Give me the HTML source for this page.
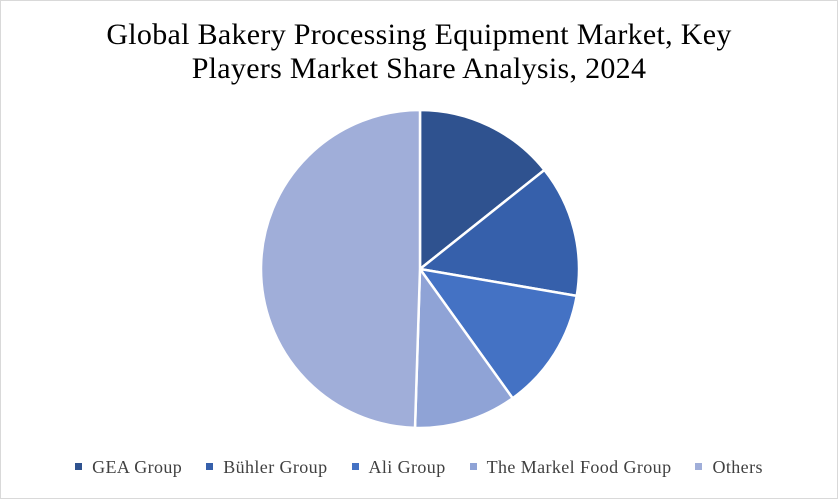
<!DOCTYPE html>
<html><head><meta charset="utf-8"><style>
body{margin:0;background:#fff}
#c{position:relative;width:836px;height:497px;border:1px solid #d9d9d9;background:#fff;font-family:"Liberation Serif",serif}
#title{position:absolute;top:17px;left:0;width:836px;text-align:center;font-size:30px;line-height:34px;color:#000;letter-spacing:0.3px}
#legend{position:absolute;top:456px;left:0;width:836px;text-align:center;font-size:18px;color:#404040;letter-spacing:0.4px}
.li{display:inline-block;margin:0 12px}
.sw{display:inline-block;width:7px;height:7px;margin-right:10px;vertical-align:3px}
</style></head><body>
<div id="c">
<div id="title">Global Bakery Processing Equipment Market, Key<br>Players Market Share Analysis, 2024</div>
<svg id="pie" width="836" height="497" style="position:absolute;left:0;top:0"></svg>
<div id="legend"></div>
</div>
<script>
const categories=["GEA Group","Bühler Group","Ali Group","The Markel Food Group","Others"];
const values=[14.3,13.4,12.4,10.4,49.5];
const colors=["#2f528f","#3660ab","#4472c4","#8fa3d6","#a0aed9"];
const svg=document.getElementById('pie');
const cx=419,cy=268,r=159;
const total=values.reduce((a,b)=>a+b,0);
let a0=0;
function pt(a){return [cx+r*Math.sin(a),cy-r*Math.cos(a)];}
values.forEach((v,i)=>{
  const a1=a0+v/total*2*Math.PI;
  const p0=pt(a0),p1=pt(a1);
  const large=(a1-a0)>Math.PI?1:0;
  const path=document.createElementNS('http://www.w3.org/2000/svg','path');
  path.setAttribute('d',`M${cx},${cy}L${p0[0]},${p0[1]}A${r},${r} 0 ${large} 1 ${p1[0]},${p1[1]}Z`);
  path.setAttribute('fill',colors[i]);
  path.setAttribute('stroke','#fff');
  path.setAttribute('stroke-width','2.5');
  
  
  svg.appendChild(path);
  a0=a1;
});
const lg=document.getElementById('legend');
categories.forEach((c,i)=>{
  const s=document.createElement('span');
  s.className='li';
  
  
  s.innerHTML='<span class="sw" style="background:'+colors[i]+'"></span>'+c;
  lg.appendChild(s);
});
</script>
</body></html>
